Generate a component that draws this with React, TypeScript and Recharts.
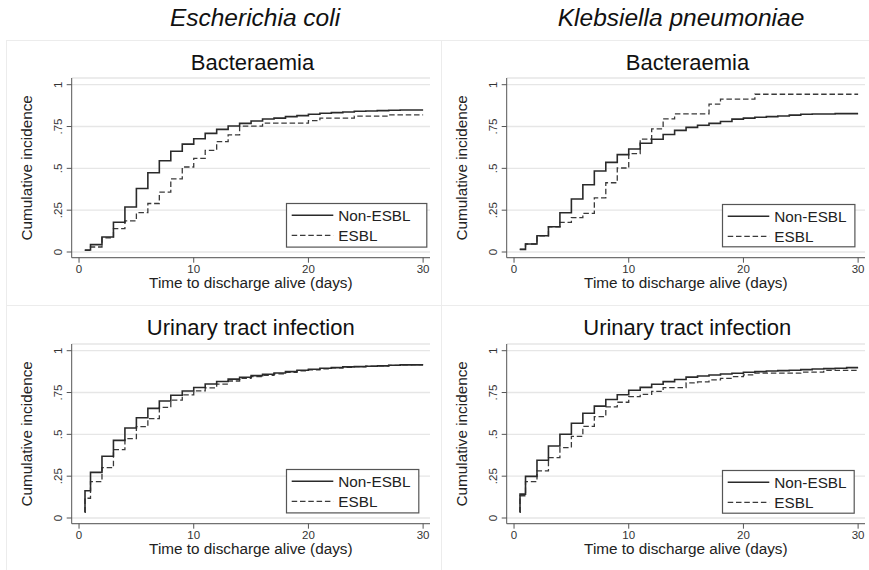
import React from 'react';
import { LineChart, Line, XAxis, YAxis, CartesianGrid, Label } from 'recharts';

const FONT = '"Liberation Sans", Arial, Helvetica, sans-serif';

// Column and panel titles
const columnTitles = ['Escherichia coli', 'Klebsiella pneumoniae'];
const rowTitles = ['Bacteraemia', 'Urinary tract infection'];
const seriesNames = ['Non-ESBL', 'ESBL'];
const xLabel = 'Time to discharge alive (days)';
const yLabel = 'Cumulative incidence';

const xTicks = [0, 10, 20, 30];
const yTicks = [0, 0.25, 0.5, 0.75, 1];
const yTickLabels = ['0', '.25', '.5', '.75', '1'];

// E. coli – Bacteraemia
const ecBactNonT = [0.5, 1, 2, 3, 4, 5, 6, 7, 8, 9, 10, 11, 12, 13, 14, 15, 16, 17, 18, 19, 20, 21, 22, 23, 24, 25, 26, 27, 28, 30];
const ecBactNonV = [0.012, 0.044, 0.09, 0.178, 0.269, 0.38, 0.474, 0.545, 0.602, 0.645, 0.677, 0.709, 0.733, 0.753, 0.769, 0.783, 0.795, 0.8, 0.809, 0.815, 0.823, 0.829, 0.833, 0.837, 0.841, 0.843, 0.845, 0.847, 0.849, 0.849];
const ecBactEsT = [0.5, 1, 2, 3, 4, 5, 6, 7, 8, 9, 10, 11, 12, 13, 14, 16, 20, 21, 24, 27, 30];
const ecBactEsV = [0.01, 0.03, 0.085, 0.14, 0.186, 0.235, 0.29, 0.358, 0.437, 0.508, 0.56, 0.608, 0.66, 0.7, 0.752, 0.77, 0.785, 0.8, 0.812, 0.82, 0.82];

// K. pneumoniae – Bacteraemia
const kpBactNonT = [0.5, 1, 2, 3, 4, 5, 6, 7, 8, 9, 10, 11, 12, 13, 14, 15, 16, 17, 18, 19, 20, 21, 22, 23, 24, 25, 26, 28, 30];
const kpBactNonV = [0.016, 0.048, 0.097, 0.151, 0.235, 0.317, 0.402, 0.484, 0.536, 0.582, 0.616, 0.65, 0.674, 0.702, 0.727, 0.745, 0.758, 0.769, 0.78, 0.794, 0.8, 0.805, 0.809, 0.813, 0.818, 0.823, 0.825, 0.827, 0.827];
const kpBactEsT = [0.5, 1, 2, 3, 4, 5, 6, 7, 8, 9, 10, 11, 12, 13, 14, 17, 18, 21, 30];
const kpBactEsV = [0.016, 0.048, 0.097, 0.151, 0.177, 0.206, 0.231, 0.324, 0.414, 0.502, 0.588, 0.675, 0.736, 0.796, 0.825, 0.884, 0.914, 0.943, 0.943];

// E. coli – Urinary tract infection
const ecUtiNonT = [0.5, 0.52, 1, 2, 3, 4, 5, 6, 7, 8, 9, 10, 11, 12, 13, 14, 15, 16, 17, 18, 19, 20, 21, 22, 23, 24, 25, 26, 27, 28, 30];
const ecUtiNonV = [0.035, 0.163, 0.273, 0.369, 0.464, 0.538, 0.599, 0.655, 0.699, 0.734, 0.759, 0.78, 0.801, 0.816, 0.83, 0.841, 0.851, 0.859, 0.867, 0.875, 0.883, 0.889, 0.895, 0.899, 0.903, 0.905, 0.907, 0.909, 0.913, 0.915, 0.915];
const ecUtiEsT = [0.5, 0.52, 1, 2, 3, 4, 5, 6, 7, 8, 9, 10, 11, 12, 13, 14, 15, 16, 17, 18, 19, 20, 21, 22, 23, 24, 25, 26, 27, 28, 29, 30];
const ecUtiEsV = [0.035, 0.118, 0.217, 0.301, 0.409, 0.475, 0.546, 0.594, 0.661, 0.705, 0.736, 0.76, 0.778, 0.8, 0.819, 0.835, 0.845, 0.853, 0.862, 0.871, 0.879, 0.886, 0.891, 0.897, 0.901, 0.905, 0.907, 0.909, 0.912, 0.915, 0.917, 0.917];

// K. pneumoniae – Urinary tract infection
const kpUtiNonT = [0.5, 0.52, 1, 2, 3, 4, 5, 6, 7, 8, 9, 10, 11, 12, 13, 14, 15, 16, 17, 18, 19, 20, 21, 22, 23, 24, 25, 26, 27, 28, 29, 30];
const kpUtiNonV = [0.035, 0.143, 0.249, 0.345, 0.43, 0.501, 0.566, 0.626, 0.669, 0.708, 0.737, 0.764, 0.781, 0.799, 0.815, 0.828, 0.842, 0.849, 0.855, 0.861, 0.865, 0.871, 0.875, 0.879, 0.881, 0.883, 0.887, 0.891, 0.893, 0.895, 0.899, 0.899];
const kpUtiEsT = [0.5, 0.52, 1, 2, 3, 4, 5, 6, 7, 8, 9, 10, 11, 12, 13, 15, 16, 17, 18, 19, 20, 21, 25, 27, 30];
const kpUtiEsV = [0.035, 0.133, 0.217, 0.282, 0.361, 0.421, 0.488, 0.548, 0.606, 0.664, 0.692, 0.725, 0.739, 0.757, 0.779, 0.808, 0.814, 0.825, 0.835, 0.845, 0.855, 0.866, 0.872, 0.882, 0.882];

const build = (t: number[], v: number[]) => t.map((x, i) => ({ t: x, v: v[i] }));

const YTick = (props: any) => {
  const { x, y, payload } = props;
  const idx = yTicks.indexOf(payload.value);
  const bx = x - 2.4;
  return (
    <text x={bx} y={y} transform={`rotate(-90, ${bx}, ${y})`} textAnchor="middle" fontSize={11.5} fill="#333" fontFamily={FONT}>
      {idx >= 0 ? yTickLabels[idx] : String(payload.value)}
    </text>
  );
};

const renderXLabel = (props: any) => {
  const vb = props.viewBox || { x: 71.7, y: 217.7, width: 358.3, height: 46.3 };
  return (
    <text x={vb.x + vb.width / 2} y={vb.y + 30} textAnchor="middle" fontSize={15.3} fill="#222" fontFamily={FONT}>
      {xLabel}
    </text>
  );
};

const renderYLabel = (props: any) => {
  const vb = props.viewBox || { x: 0, y: 38, width: 71.7, height: 179.7 };
  const cx = vb.x + 32;
  const cy = vb.y + vb.height / 2;
  return (
    <text x={cx} y={cy} transform={`rotate(-90, ${cx}, ${cy})`} textAnchor="middle" fontSize={15.3} fill="#222" fontFamily={FONT}>
      {yLabel}
    </text>
  );
};

type PanelProps = {
  left: number;
  top: number;
  solid: { t: number; v: number }[];
  dashed: { t: number; v: number }[];
  legend: { x: number; y: number; w: number; h: number };
};

const Panel = ({ left, top, solid, dashed, legend }: PanelProps) => (
  <div style={{ position: 'absolute', left, top, width: 435, height: 264 }}>
    <LineChart width={435} height={264} margin={{ top: 38, right: 5, bottom: 0, left: 0 }}>
      <CartesianGrid vertical={false} stroke="#e6e6e6" strokeWidth={1.3} />
      <XAxis
        type="number"
        dataKey="t"
        domain={[-0.64, 30.6]}
        ticks={xTicks}
        allowDataOverflow
        height={46.3}
        tickSize={5}
        stroke="#555"
        tick={{ fontSize: 11.5, fill: '#333', fontFamily: FONT }}
      >
        <Label content={renderXLabel} />
      </XAxis>
      <YAxis
        type="number"
        domain={[-0.034, 1.04]}
        ticks={yTicks}
        allowDataOverflow
        width={71.7}
        tickSize={5}
        stroke="#555"
        tick={<YTick />}
      >
        <Label content={renderYLabel} />
      </YAxis>
      <Line data={dashed} dataKey="v" type="stepAfter" stroke="#3a3a3a" strokeWidth={1.3} strokeDasharray="5.5 2.8" dot={false} isAnimationActive={false} />
      <Line data={solid} dataKey="v" type="stepAfter" stroke="#2a2a2a" strokeWidth={1.6} dot={false} isAnimationActive={false} />
    </LineChart>
    <svg style={{ position: 'absolute', left: legend.x, top: legend.y, overflow: 'visible' }} width={legend.w} height={legend.h}>
      <rect x={0.5} y={0.5} width={legend.w - 1} height={legend.h - 1} fill="#fff" stroke="#555" strokeWidth={1.2} />
      <line x1={5.7} x2={47.3} y1={12.3} y2={12.3} stroke="#2a2a2a" strokeWidth={1.6} />
      <line x1={5.7} x2={47.3} y1={32.3} y2={32.3} stroke="#3a3a3a" strokeWidth={1.3} strokeDasharray="5.5 2.8" />
      <text x={52.3} y={17.8} fontSize={15.3} fill="#222" fontFamily={FONT}>{seriesNames[0]}</text>
      <text x={52.3} y={37.8} fontSize={15.3} fill="#222" fontFamily={FONT}>{seriesNames[1]}</text>
    </svg>
  </div>
);

export default function App() {
  return (
    <div style={{ position: 'absolute', left: 0, top: 0, width: 869, height: 570, background: '#fff', overflow: 'hidden' }}>
      <svg style={{ position: 'absolute', left: 0, top: 0 }} width={869} height={570}>
        <line x1={6} x2={869} y1={40.5} y2={40.5} stroke="#ececec" strokeWidth={1} />
        <line x1={6.5} x2={6.5} y1={40} y2={570} stroke="#ececec" strokeWidth={1} />
        <line x1={441.5} x2={441.5} y1={40} y2={570} stroke="#ececec" strokeWidth={1} />
        <line x1={6} x2={869} y1={305.5} y2={305.5} stroke="#ececec" strokeWidth={1} />
        <text x={255} y={26} textAnchor="middle" fontSize={24.5} fontStyle="italic" fill="#111" fontFamily={FONT}>{columnTitles[0]}</text>
        <text x={681} y={26} textAnchor="middle" fontSize={24.5} fontStyle="italic" fill="#111" fontFamily={FONT}>{columnTitles[1]}</text>
        <text x={252.5} y={70} textAnchor="middle" fontSize={22} fill="#111" fontFamily={FONT}>{rowTitles[0]}</text>
        <text x={687.5} y={70} textAnchor="middle" fontSize={22} fill="#111" fontFamily={FONT}>{rowTitles[0]}</text>
        <text x={250.8} y={335} textAnchor="middle" fontSize={22} fill="#111" fontFamily={FONT}>{rowTitles[1]}</text>
        <text x={687.2} y={335} textAnchor="middle" fontSize={22} fill="#111" fontFamily={FONT}>{rowTitles[1]}</text>
      </svg>
      <Panel left={0} top={40} solid={build(ecBactNonT, ecBactNonV)} dashed={build(ecBactEsT, ecBactEsV)} legend={{ x: 286, y: 162.7, w: 141.3, h: 44.6 }} />
      <Panel left={435} top={40} solid={build(kpBactNonT, kpBactNonV)} dashed={build(kpBactEsT, kpBactEsV)} legend={{ x: 287.3, y: 164, w: 133.4, h: 43.3 }} />
      <Panel left={0} top={306} solid={build(ecUtiNonT, ecUtiNonV)} dashed={build(ecUtiEsT, ecUtiEsV)} legend={{ x: 286, y: 163.3, w: 133.3, h: 44.4 }} />
      <Panel left={435} top={306} solid={build(kpUtiNonT, kpUtiNonV)} dashed={build(kpUtiEsT, kpUtiEsV)} legend={{ x: 287.3, y: 164, w: 132.7, h: 43.7 }} />
    </div>
  );
}
